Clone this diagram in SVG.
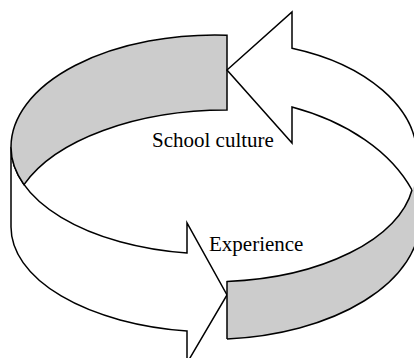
<svg xmlns="http://www.w3.org/2000/svg" width="414" height="358" viewBox="0 0 414 358">
  <style>
    .band { fill: #ffffff; stroke: #000000; stroke-width: 1.5; stroke-linejoin: miter; stroke-miterlimit: 10; }
    .shade { fill: #cccccc; stroke: #000000; stroke-width: 1.5; stroke-linejoin: miter; }
    .shade-fill { fill: #cccccc; stroke: none; }
    .edge { fill: none; stroke: #000000; stroke-width: 1.5; }
    .label { font-family: "Liberation Serif", "Times New Roman", serif; font-size: 21px; fill: #000000; }
  </style>
  <rect width="414" height="358" fill="#ffffff"/>

  <!-- Upper-left loop: shaded back strip turning into the white front strip, ending in a right-pointing head -->
  <g id="loop-left">
    <path class="band" d="M11,147 L11,227 A204,105 0 0 0 187,331 L187,363 L227,295 L187,223 L187,253 A204,107 0 0 1 11,147 Z"/>
    <path class="shade" d="M227,35.2 A204,112 0 0 0 11,147 A204,107 0 0 0 24,184.6 A216,114 0 0 1 227,110 Z"/>
  </g>

  <!-- Lower-right loop: shaded front strip turning into the white back strip, ending in a left-pointing head -->
  <g id="loop-right">
    <path class="band" d="M292,48.2 A187,115 0 0 1 417,156.6 L430,156 L430,200 L412,190 A210,142.4 0 0 0 292,107 L292,143 L227,70 L292,12 Z"/>
    <path class="shade-fill" d="M227,281.6 A204,107 0 0 0 412,190 L414,186 L430,186 L430,219.4 L420,219.4 A210,120 0 0 1 227,339 Z"/>
    <path class="edge" d="M227,339 L227,281.6 A204,107 0 0 0 412,190"/>
    <path class="edge" d="M420,219.4 A210,120 0 0 1 227,339"/>
  </g>

  <g id="labels">
    <text class="label" x="152" y="147">School culture</text>
    <text class="label" x="209" y="251">Experience</text>
  </g>
</svg>
